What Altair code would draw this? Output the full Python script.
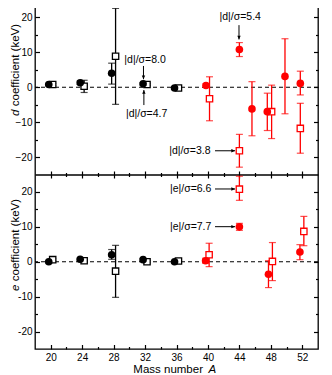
import altair as alt
import pandas as pd

W, H = 283, 349
FONT = "Liberation Sans"

# ---------------- d coefficient (upper panel) ----------------
d_black_circle_x = [19.75, 23.75, 27.75, 31.75, 35.75]
d_black_circle_v = [0.8, 1.3, 4.0, 1.0, -0.2]
d_black_circle_lo = [0.5, 0.8, 0.9, 0.7, -0.5]
d_black_circle_hi = [1.1, 1.8, 6.9, 1.3, 0.1]

d_black_square_x = [20.25, 24.25, 28.25, 32.25, 36.25]
d_black_square_v = [0.8, 0.3, 8.9, 0.8, -0.2]
d_black_square_lo = [0.5, -1.5, -4.9, 0.5, -0.5]
d_black_square_hi = [1.1, 2.0, 22.6, 1.1, 0.1]

d_red_circle_x = [39.75, 44.0, 45.6, 47.55, 49.8, 51.75]
d_red_circle_v = [0.5, 10.8, -6.2, -7.0, 3.1, 1.1]
d_red_circle_lo = [0.0, 8.8, -13.9, -12.4, -7.6, -2.2]
d_red_circle_hi = [1.0, 12.8, 1.6, -1.7, 13.9, 4.6]

d_red_square_x = [40.2, 44.0, 48.1, 51.75]
d_red_square_v = [-3.3, -18.2, -7.0, -11.8]
d_red_square_lo = [-9.6, -22.9, -14.7, -18.9]
d_red_square_hi = [3.0, -13.5, 0.6, -4.6]

# ---------------- e coefficient (lower panel) ----------------
e_black_circle_x = [19.75, 23.75, 27.75, 31.75, 35.75]
e_black_circle_v = [0.0, 0.7, 2.0, 0.6, 0.0]
e_black_circle_lo = [-0.3, 0.4, 0.7, 0.3, -0.3]
e_black_circle_hi = [0.3, 1.0, 3.5, 0.9, 0.3]

e_black_square_x = [20.25, 24.25, 28.25, 32.25, 36.25]
e_black_square_v = [0.6, 0.3, -2.7, 0.0, 0.2]
e_black_square_lo = [0.3, 0.0, -10.2, -0.3, -0.1]
e_black_square_hi = [0.9, 0.6, 4.7, 0.3, 0.5]

e_red_circle_x = [39.7, 44.0, 47.7, 51.7]
e_red_circle_v = [0.3, 10.0, -3.6, 2.8]
e_red_circle_lo = [-0.4, 9.0, -7.4, 0.6]
e_red_circle_hi = [1.0, 11.0, 0.3, 4.9]

e_red_square_x = [40.15, 44.0, 48.2, 52.2]
e_red_square_v = [2.0, 20.8, 0.1, 8.7]
e_red_square_lo = [-1.4, 17.6, -5.4, 4.6]
e_red_square_hi = [5.3, 24.5, 5.5, 13.0]

# ---------------- annotations ----------------
ann_text = ["|d|/σ=8.0", "|d|/σ=4.7", "|d|/σ=5.4", "|d|/σ=3.8", "|e|/σ=6.6", "|e|/σ=7.7"]
ann_panel = ["d", "d", "d", "d", "e", "e"]
ann_x = [32.0, 32.2, 44.1, 37.7, 37.8, 37.8]
ann_v = [7.8, -7.7, 20.2, -18.2, 20.85, 10.05]

arr_panel = ["d", "d", "d", "d", "e", "e"]
arr_dir = ["down", "up", "down", "right", "right", "right"]
arr_x_tail = [31.8, 31.85, 43.95, 40.9, 40.9, 40.9]
arr_v_tail = [6.1, -5.1, 17.8, -18.2, 20.85, 10.05]
arr_x_tip = [31.8, 31.85, 43.95, 43.45, 43.45, 43.45]
arr_v_tip = [2.3, -0.8, 13.7, -18.2, 20.85, 10.05]

zero_panels = ["d", "e"]
zero_level = [0, 0]

x_major = [20, 24, 28, 32, 36, 40, 44, 48, 52]
x_minor = [22, 26, 30, 34, 38, 42, 46, 50]
y_major_vals = [20, 10, 0, -10, -20]
y_minor_vals = [15, 5, -5, -15]

# ---------------- build tables ----------------
def series(panel, shape, color, xs, vs, los, his):
    return pd.DataFrame({"panel": panel, "shape": shape, "col": color,
                         "x": xs, "v": vs, "lo": los, "hi": his})

pts = pd.concat([
    series("d", "circle", "black", d_black_circle_x, d_black_circle_v, d_black_circle_lo, d_black_circle_hi),
    series("d", "square", "black", d_black_square_x, d_black_square_v, d_black_square_lo, d_black_square_hi),
    series("d", "circle", "#ff0000", d_red_circle_x, d_red_circle_v, d_red_circle_lo, d_red_circle_hi),
    series("d", "square", "#ff0000", d_red_square_x, d_red_square_v, d_red_square_lo, d_red_square_hi),
    series("e", "circle", "black", e_black_circle_x, e_black_circle_v, e_black_circle_lo, e_black_circle_hi),
    series("e", "square", "black", e_black_square_x, e_black_square_v, e_black_square_lo, e_black_square_hi),
    series("e", "circle", "#ff0000", e_red_circle_x, e_red_circle_v, e_red_circle_lo, e_red_circle_hi),
    series("e", "square", "#ff0000", e_red_square_x, e_red_square_v, e_red_square_lo, e_red_square_hi),
], ignore_index=True)

ann = pd.DataFrame({"panel": ann_panel, "x": ann_x, "v": ann_v, "text": ann_text})

HEAD = {
    "down": "M-0.9,-2L0.9,-2L0,0Z",
    "up": "M-0.9,2L0.9,2L0,0Z",
    "right": "M-2,-0.9L0,0L-2,0.9Z",
}
arr = pd.DataFrame({"panel": arr_panel, "x": arr_x_tail, "v": arr_v_tail,
                    "x2": arr_x_tip, "v2": arr_v_tip,
                    "head": [HEAD[d] for d in arr_dir]})
zeros = pd.DataFrame({"panel": zero_panels, "v": zero_level})

def comb(f):
    # upper panel occupies combined [0, 50], lower panel [-50, 0]
    return f"datum.panel == 'd' ? datum.{f} + 25 : datum.{f} - 25"

xs = alt.Scale(domain=[18, 54], nice=False, zero=False)
ys = alt.Scale(domain=[-50, 50], nice=False, zero=False)

def X(f="x"):
    return alt.X(f"{f}:Q", scale=xs, axis=None)

def Y(f="yc"):
    return alt.Y(f"{f}:Q", scale=ys, axis=None)

base = alt.Chart(pts).transform_calculate(yc=comb("v"), ylo=comb("lo"), yhi=comb("hi"))

zero_layer = alt.Chart(zeros).transform_calculate(yc=comb("v")).mark_rule(
    color="black", strokeWidth=1, strokeDash=[4, 3]).encode(y=Y())

err = base.mark_rule(strokeWidth=1.3).encode(
    x=X(), y=Y("ylo"), y2="yhi:Q", color=alt.Color("col:N", scale=None))
cap_lo = base.mark_tick(orient="horizontal", size=7, thickness=1.2).encode(
    x=X(), y=Y("ylo"), color=alt.Color("col:N", scale=None))
cap_hi = base.mark_tick(orient="horizontal", size=7, thickness=1.2).encode(
    x=X(), y=Y("yhi"), color=alt.Color("col:N", scale=None))
squares = base.transform_filter("datum.shape == 'square'").mark_point(
    shape="square", size=40, filled=True, fill="white", strokeWidth=1.3, opacity=1).encode(
    x=X(), y=Y(), stroke=alt.Stroke("col:N", scale=None))
circles = base.transform_filter("datum.shape == 'circle'").mark_circle(
    size=58, opacity=1).encode(
    x=X(), y=Y(), color=alt.Color("col:N", scale=None))

ann_layer = alt.Chart(ann).transform_calculate(yc=comb("v")).mark_text(
    font=FONT, fontSize=10.5, color="black", align="center", baseline="middle").encode(
    x=X(), y=Y(), text="text:N")

arr_base = alt.Chart(arr).transform_calculate(yc=comb("v"), yc2=comb("v2"))
shafts = arr_base.mark_rule(color="black", strokeWidth=1).encode(
    x=X(), y=Y(), x2="x2:Q", y2="yc2:Q")
heads = arr_base.mark_point(filled=True, size=14, color="black", opacity=1).encode(
    x=X("x2"), y=Y("yc2"), shape=alt.Shape("head:N", scale=None))

# ---------------- titles ----------------
TS = 11.5
TX = -16.5
GAP = 9.8  # width of italic letter plus a space


def label(text, x, y, italic=False, angle=0, align="left", baseline="alphabetic"):
    kw = dict(font=FONT, fontSize=TS, align=align, baseline=baseline, color="black")
    if italic:
        kw["fontStyle"] = "italic"
    if angle:
        kw["angle"] = angle
    return alt.Chart(pd.DataFrame({"t": [text]})).mark_text(**kw).encode(
        x=alt.value(x), y=alt.value(y), text="t:N")


titles = [
    label("d", TX, 116, italic=True, angle=270),
    label("coefficient (keV)", TX, 116 - GAP, angle=270),
    label("e", TX, 291, italic=True, angle=270),
    label("coefficient (keV)", TX, 291 - GAP, angle=270),
    label("Mass number", 168, 370, align="right", baseline="middle"),
    label("A", 173.5, 370, italic=True, baseline="middle"),
]

# ---------------- axes (ticks pointing inward) ----------------
dummy = pd.DataFrame({"x": [20], "yc": [0]})

def x_axis_layer(**kw):
    props = dict(grid=False, labels=False, domain=False, title=None,
                 tickColor="black", tickWidth=1.2)
    props.update(kw)
    return alt.Chart(dummy).mark_point(opacity=0).encode(
        x=alt.X("x:Q", scale=xs, axis=alt.Axis(**props)), y=Y())

def y_axis_layer(**kw):
    props = dict(grid=False, labels=False, domain=False, title=None,
                 tickColor="black", tickWidth=1.2)
    props.update(kw)
    return alt.Chart(dummy).mark_point(opacity=0).encode(
        x=X(), y=alt.Y("yc:Q", scale=ys, axis=alt.Axis(**props)))

y_major = [v + 25 for v in y_major_vals] + [v - 25 for v in y_major_vals]
y_minor = [v + 25 for v in y_minor_vals] + [v - 25 for v in y_minor_vals]

axes = [
    # labelled axes
    x_axis_layer(orient="bottom", values=x_major, ticks=False, tickSize=0, labels=True,
                 labelFont=FONT, labelFontSize=10, labelColor="black", labelPadding=3,
                 labelFlush=False),
    y_axis_layer(orient="left", values=y_major, ticks=False, tickSize=0, labels=True,
                 labelFont=FONT, labelFontSize=10, labelColor="black", labelPadding=3,
                 labelFlush=False,
                 labelExpr="datum.value > 0 ? format(datum.value - 25, 'd') : '' + (datum.value + 25)"),
    # inward ticks, bottom edge
    x_axis_layer(orient="top", offset=-H, values=x_major, tickSize=4.5),
    x_axis_layer(orient="top", offset=-H, values=x_minor, tickSize=2.5),
    # inward ticks, top edge
    x_axis_layer(orient="bottom", offset=-H, values=x_major, tickSize=4.5),
    x_axis_layer(orient="bottom", offset=-H, values=x_minor, tickSize=2.5),
    # separator with ticks on both sides
    x_axis_layer(orient="top", offset=-H / 2, values=x_major, tickSize=3.5,
                 domain=True, domainColor="black", domainWidth=1.3),
    x_axis_layer(orient="top", offset=-H / 2, values=x_minor, tickSize=2),
    x_axis_layer(orient="bottom", offset=-H / 2, values=x_major, tickSize=3.5),
    x_axis_layer(orient="bottom", offset=-H / 2, values=x_minor, tickSize=2),
    # inward ticks, left edge
    y_axis_layer(orient="right", offset=-W, values=y_major, tickSize=4.5),
    y_axis_layer(orient="right", offset=-W, values=y_minor, tickSize=2.5),
    # inward ticks, right edge
    y_axis_layer(orient="left", offset=-W, values=y_major, tickSize=4.5),
    y_axis_layer(orient="left", offset=-W, values=y_minor, tickSize=2.5),
]

chart = alt.layer(
    *axes, zero_layer, err, cap_lo, cap_hi, squares, circles,
    shafts, heads, ann_layer, *titles
).resolve_axis(x="independent", y="independent").properties(
    width=W, height=H,
    padding={"left": 27, "top": -8, "right": 6, "bottom": 27},
    autosize=alt.AutoSizeParams(type="none"),
).configure_view(stroke="black", strokeWidth=1.3)

chart.save("out.html", embed_options={"renderer": "svg", "actions": False})
